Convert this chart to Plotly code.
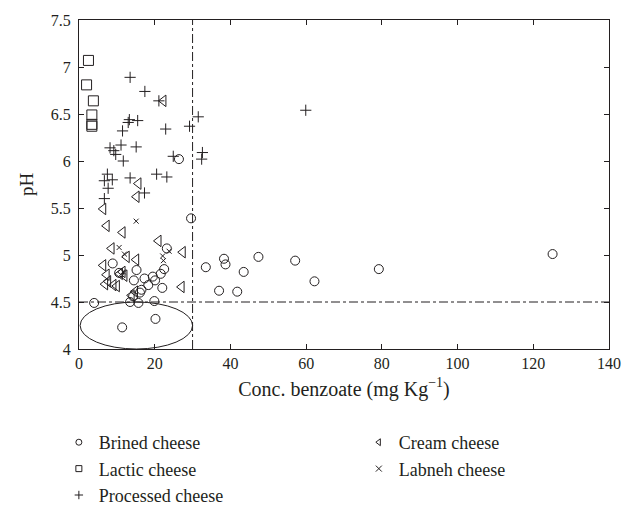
import plotly.graph_objects as go

# Brined cheese
brined_x = [4, 11.4, 20.2, 26.4, 29.6, 23.2, 33.5, 38.3, 38.7, 47.4, 43.5, 37, 41.8, 57.1, 62.2, 79.2, 125.1,
            19.9, 22, 22.5, 21.6, 20.1, 19.5, 18.3, 17.3, 16.5, 8.9, 10.6, 15.2, 14.5, 14.3, 13.5, 15.7, 16.1]
brined_ph = [4.49, 4.23, 4.32, 6.02, 5.39, 5.07, 4.87, 4.96, 4.90, 4.98, 4.82, 4.62, 4.61, 4.94, 4.72, 4.85, 5.01,
             4.51, 4.65, 4.85, 4.80, 4.73, 4.77, 4.68, 4.75, 4.63, 4.91, 4.81, 4.84, 4.73, 4.56, 4.50, 4.49, 4.60]

# Lactic cheese
lactic_x = [2.5, 2.0, 3.8, 3.4, 3.4, 3.4]
lactic_ph = [7.07, 6.81, 6.64, 6.49, 6.39, 6.37]

# Processed cheese
processed_x = [13.5, 17.4, 13.3, 13, 15.5, 11.5, 22.9, 29.2, 31.5, 11.1, 8.2, 9.2, 9.7, 15.1, 11.7, 24.9,
               32.6, 32.4, 7.5, 6.7, 8.8, 7.7, 6.7, 13.5, 20.5, 23.2, 17.3, 21.1, 59.9]
processed_ph = [6.89, 6.74, 6.44, 6.41, 6.43, 6.32, 6.34, 6.37, 6.47, 6.17, 6.14, 6.11, 6.07, 6.15, 6.0, 6.05,
                6.09, 6.02, 5.86, 5.79, 5.80, 5.71, 5.60, 5.82, 5.86, 5.83, 5.66, 6.64, 6.54]

# Cream cheese
cream_x = [22.3, 15.7, 15.2, 6.4, 7.3, 11.5, 8.6, 6.4, 12.6, 15.1, 21, 27.4, 27.1, 7.3, 7.7, 10.8, 6.9, 9.1,
           13.9, 14.8, 10, 12, 11.5]
cream_ph = [6.64, 5.76, 5.62, 5.49, 5.31, 5.24, 5.07, 4.89, 4.98, 4.95, 5.15, 5.03, 4.66, 4.79, 4.72, 4.80, 4.69,
            4.68, 4.57, 4.61, 4.67, 4.78, 4.82]

# Labneh cheese
labneh_x = [15.1, 10.6, 12, 22.1, 22.3, 23.8, 11.7]
labneh_ph = [5.36, 5.08, 5.01, 4.99, 4.94, 5.04, 4.82]

x_limit = 30
ph_limit = 4.5

INK = "#231f20"
FONT = "Liberation Serif"

fig = go.Figure()

def add_group(x, y, name, symbol, size, legend):
    fig.add_trace(
        go.Scatter(
            x=x, y=y, mode="markers", name=name, showlegend=False,
            marker=dict(symbol=symbol, size=size, color=INK,
                        line=dict(color=INK, width=1))
        )
    )
    # small legend-only entry, as in the reference key
    fig.add_trace(
        go.Scatter(
            x=[None], y=[None], mode="markers", name=name, legend=legend,
            marker=dict(symbol=symbol, size=6, color=INK,
                        line=dict(color=INK, width=1))
        )
    )

add_group(brined_x, brined_ph, "Brined cheese", "circle-open", 9, "legend")
add_group(lactic_x, lactic_ph, "Lactic cheese", "square-open", 10, "legend")
add_group(processed_x, processed_ph, "Processed cheese", "cross-thin-open", 8, "legend")
add_group(cream_x, cream_ph, "Cream cheese", "triangle-left-open", 10, "legend2")
add_group(labneh_x, labneh_ph, "Labneh cheese", "x-thin-open", 5, "legend2")

# limit lines
fig.add_shape(type="line", xref="x", yref="paper", x0=x_limit, x1=x_limit, y0=0, y1=1,
              line=dict(color=INK, width=1, dash="dashdot"))
fig.add_shape(type="line", xref="paper", yref="y", x0=0, x1=1, y0=ph_limit, y1=ph_limit,
              line=dict(color=INK, width=1, dash="dashdot"))
# ellipse around the low-pH samples
fig.add_shape(type="circle", xref="x", yref="y", x0=0.3, x1=30, y0=4.0, y1=4.5,
              line=dict(color=INK, width=1))

axis_common = dict(showline=True, linecolor=INK, linewidth=1, mirror="ticks", ticks="inside",
                   ticklen=5, tickcolor=INK, showgrid=False, zeroline=False, automargin=False,
                   tickfont=dict(family=FONT, size=16, color=INK))

fig.update_xaxes(range=[0, 140], dtick=20,
                 title=dict(text="Conc. benzoate (mg Kg<sup>−1</sup>)",
                            font=dict(family=FONT, size=20, color=INK), standoff=10),
                 **axis_common)
fig.update_yaxes(range=[4, 7.5], dtick=0.5, ticklabelstandoff=4,
                 title=dict(text="pH", font=dict(family=FONT, size=19, color=INK), standoff=12),
                 **axis_common)

legend_common = dict(font=dict(family=FONT, size=18, color=INK), yanchor="top", xanchor="left",
                     bgcolor="rgba(0,0,0,0)", tracegroupgap=0)

fig.update_layout(
    width=622, height=506,
    margin={'l': 79, 'r': 13, 't': 20, 'b': 157, 'autoexpand': False},
    plot_bgcolor="white", paper_bgcolor="white",
    showlegend=True,
    legend=dict(x=-0.038, y=-0.228, **legend_common),
    legend2=dict(x=0.528, y=-0.228, **legend_common),
)

# drop the default page margin so the figure fills the window exactly
fig.write_html("out.html", config={'displayModeBar': False},
               post_script="document.body.style.margin = '0';")
